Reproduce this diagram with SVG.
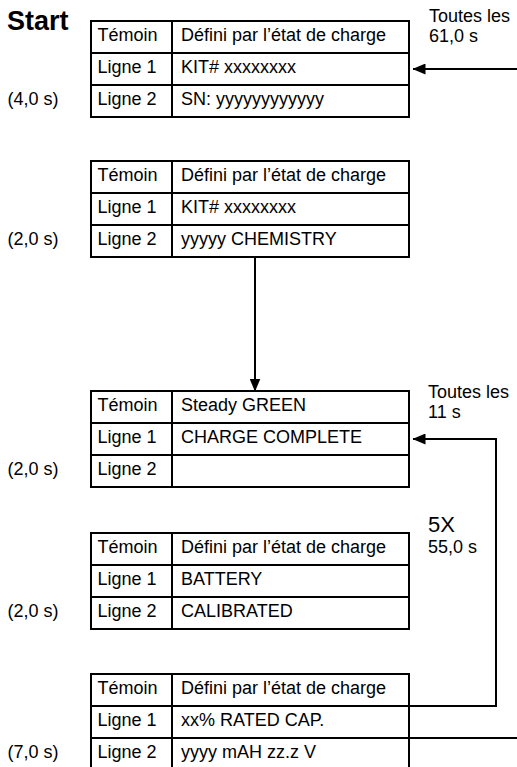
<svg xmlns="http://www.w3.org/2000/svg" width="517" height="767" viewBox="0 0 517 767">
<defs>
<style>
text{font-family:"Liberation Sans",Arial,sans-serif;font-size:18px;fill:#000}
.b{font-weight:bold;font-size:27px}
.big{font-size:22px}
.box{fill:#fff;stroke:#000;stroke-width:2}
.ln{stroke:#000;stroke-width:2;fill:none}
</style>
<marker id="ah" markerUnits="userSpaceOnUse" viewBox="0 0 13 11" markerWidth="13" markerHeight="11" refX="12.5" refY="5.5" orient="auto">
<path d="M0,0 L13,5.5 L0,11 Z" fill="#000"/>
</marker>
</defs>
<rect width="517" height="767" fill="#fff"/>
<text class="b" x="7" y="30">Start</text>

<g id="node1">
<rect class="box" x="91" y="21" width="318" height="96"/>
<path class="ln" d="M172,21V117M91,53H409M91,85H409"/>
<text x="97.5" y="41">Témoin</text><text x="181" y="41">Défini par l’état de charge</text>
<text x="97.5" y="73">Ligne 1</text><text x="181" y="73">KIT# xxxxxxxx</text>
<text x="97.5" y="105">Ligne 2</text><text x="181" y="105">SN: yyyyyyyyyyyy</text>
<text x="7.5" y="105">(4,0 s)</text>
</g>

<g id="node2">
<rect class="box" x="91" y="161" width="318" height="96"/>
<path class="ln" d="M172,161V257M91,193H409M91,225H409"/>
<text x="97.5" y="181">Témoin</text><text x="181" y="181">Défini par l’état de charge</text>
<text x="97.5" y="213">Ligne 1</text><text x="181" y="213">KIT# xxxxxxxx</text>
<text x="97.5" y="245">Ligne 2</text><text x="181" y="245">yyyyy CHEMISTRY</text>
<text x="7.5" y="245">(2,0 s)</text>
</g>

<g id="node3">
<rect class="box" x="91" y="391" width="318" height="96"/>
<path class="ln" d="M172,391V487M91,423H409M91,455H409"/>
<text x="97.5" y="411">Témoin</text><text x="181" y="411">Steady GREEN</text>
<text x="97.5" y="443">Ligne 1</text><text x="181" y="443">CHARGE COMPLETE</text>
<text x="97.5" y="475">Ligne 2</text>
<text x="7.5" y="475">(2,0 s)</text>
</g>

<g id="node4">
<rect class="box" x="91" y="533" width="318" height="96"/>
<path class="ln" d="M172,533V629M91,565H409M91,597H409"/>
<text x="97.5" y="553">Témoin</text><text x="181" y="553">Défini par l’état de charge</text>
<text x="97.5" y="585">Ligne 1</text><text x="181" y="585">BATTERY</text>
<text x="97.5" y="617">Ligne 2</text><text x="181" y="617">CALIBRATED</text>
<text x="7.5" y="617">(2,0 s)</text>
</g>

<g id="node5">
<rect class="box" x="91" y="674" width="318" height="96"/>
<path class="ln" d="M172,674V770M91,706H409M91,738H409"/>
<text x="97.5" y="694">Témoin</text><text x="181" y="694">Défini par l’état de charge</text>
<text x="97.5" y="726">Ligne 1</text><text x="181" y="726">xx% RATED CAP.</text>
<text x="97.5" y="758">Ligne 2</text><text x="181" y="758">yyyy mAH zz.z V</text>
<text x="7.5" y="758">(7,0 s)</text>
</g>

<g id="connectors">
<path class="ln" d="M517,69H413" marker-end="url(#ah)"/>
<path class="ln" d="M255,257V391" marker-end="url(#ah)"/>
<path class="ln" d="M409,706H496V439H413" marker-end="url(#ah)"/>
<path class="ln" d="M409,738H517"/>
</g>

<g id="labels">
<text x="429" y="22">Toutes les</text>
<text x="429" y="42">61,0 s</text>
<text x="428" y="398">Toutes les</text>
<text x="428" y="418">11 s</text>
<text class="big" x="428" y="532">5X</text>
<text x="428" y="553">55,0 s</text>
</g>
</svg>
